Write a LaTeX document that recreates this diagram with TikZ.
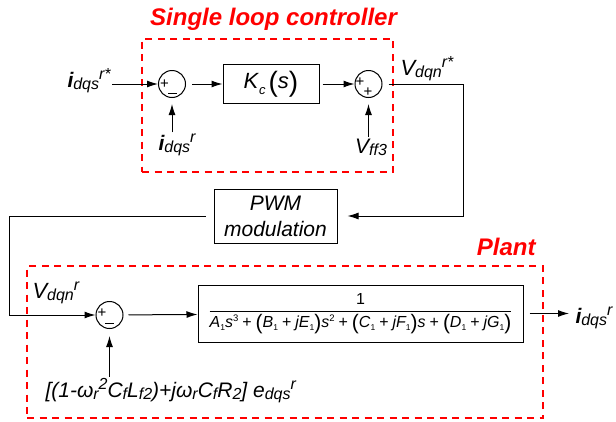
\documentclass[tikz,border=0pt]{standalone}
\usepackage{amsmath}
\usepackage{graphicx}
\usepackage{fontspec}
\setmainfont{Liberation Sans}
\usetikzlibrary{positioning,arrows.meta}

\newcommand\setfs[1]{\fontsize{#1}{#1}\selectfont}
\newcommand\sbs[1]{\raisebox{-2.5pt}{\setfs{16}#1}}
\newcommand\sps[1]{\raisebox{7.5pt}{\setfs{16}#1}}
\newcommand\tsb[1]{\raisebox{-3pt}{\setfs{8.5}\upshape#1}}
\newcommand\tsp[1]{\raisebox{6.5pt}{\setfs{9.5}\upshape#1}}
\newcommand\pl{\hspace{0.25em}{\upshape+}\hspace{0.25em}}
\newcommand\bp[1]{{\upshape\raisebox{-2pt}{\setfs{21}(}}#1{\upshape\raisebox{-2pt}{\setfs{21})}}}

\begin{document}
\begin{tikzpicture}[x=1pt,y=-1pt,line width=1pt,>={Latex[length=11pt,width=7pt]},
  blk/.style={draw,inner sep=0pt},
  sum/.style={draw,circle,minimum size=27pt,inner sep=0pt},
  sgn/.style={inner sep=0pt,font=\setfs{15}},
  sig/.style={inner sep=1pt,font=\setfs{21}\itshape},
  grp/.style={draw=red,line width=1.4pt,dash pattern=on 7pt off 5.5pt},
  ttl/.style={inner sep=0pt,text=red,font=\setfs{24}\bfseries\itshape}]
\useasboundingbox (0,0) rectangle (616,421);
\node[ttl,anchor=base] (ttl) at (273.5,25) {Single loop controller};
\node[grp,minimum width=251,minimum height=133] (ctrl) at (267.5,105.5) {};
\node[sum] (s1) at (172,84) {};
\node[blk,minimum width=96,minimum height=39,right=36.5pt of s1] (kc)
  {\setfs{22}\textit{K}\raisebox{-6pt}{\setfs{13}\textit{c}}\hspace{3pt}\raisebox{-2.5pt}{\setfs{28}(}\textit{s}\raisebox{-2.5pt}{\setfs{28})}};
\node[sum,right=35pt of kc] (s2) {};
\node[sgn] at ([xshift=-7.5pt]s1.center) {+};
\draw ([xshift=-4pt,yshift=-9pt]s1.center) -- ++(9,0);
\node[sgn] at ([xshift=-8.5pt,yshift=1.5pt]s2.center) {+};
\node[sgn] at ([xshift=-0.5pt,yshift=-8.5pt]s2.center) {+};
\node[sig,anchor=base west] (iref) at (66,87) {{\bfseries i}\sbs{dqs}\sps{r*}};
\node[sig,anchor=base] (ifb) at (177,150) {{\bfseries i}\sbs{dqs}\sps{r}};
\node[sig,anchor=base] (vff) at (371,153) {V\sbs{ff3}};
\node[sig,anchor=base west,font=\setfs{22}\itshape] (vref) at (399,75) {V\sbs{dqn}\sps{r*}};
\coordinate (c1) at (463,84);
\node[blk,minimum width=123,minimum height=54,align=center,
  font=\fontsize{21}{26}\selectfont\itshape] (pwm) at (275.5,216) {PWM\\modulation};
\coordinate (c2) at (9,315);
\node[ttl,anchor=base east] (plt) at (536,255) {Plant};
\node[grp,minimum width=516,minimum height=152] (plant) at (285,342) {};
\node[sum] (s3) at (109.5,315) {};
\node[sgn] at ([xshift=-7.5pt,yshift=2pt]s3.center) {+};
\draw ([xshift=-4.5pt,yshift=-8pt]s3.center) -- ++(9,0);
\node[sig,anchor=base west,font=\setfs{22}\itshape] (vin) at (31,298) {V\sbs{dqn}\sps{r}};
\node[blk,minimum width=325,minimum height=57] (tf) at (360.5,313.5)
  {\setfs{16}$\dfrac{\text{1}}{\text{\itshape A\tsb{1}s\tsp{3}\pl\bp{B\tsb{1}\pl jE\tsb{1}}s\tsp{2}\pl\bp{C\tsb{1}\pl jF\tsb{1}}s\pl\bp{D\tsb{1}\pl jG\tsb{1}}}}$};
\node[sig,anchor=base west] (iout) at (574,323) {{\bfseries i}\sbs{dqs}\sps{r}};
\node[sig,anchor=base west] (efb) at (44,397) {[(1-ω\sbs{r}\sps{2}C\sbs{f}L\sbs{f2})+jω\sbs{r}C\sbs{f}R\sbs{2}] e\sbs{dqs}\sps{r}};
\draw[->] (iref.east |- s1) -- (s1);
\draw[->,shorten <=6pt] (s1) -- (kc);
\draw[->,shorten <=3pt] (kc) -- (s2);
\draw[->,shorten >=6pt] (s1 |- ifb.north) -- (s1);
\draw[->,shorten >=6pt] (s2 |- vff.north) -- (s2);
\draw[->,shorten <=6pt,shorten >=10pt] (s2) -- (c1) |- (pwm);
\draw[->,shorten <=8pt] (pwm) -| (c2) -- (s3);
\draw[->,shorten <=5pt] (s3) -- (tf);
\draw[->,shorten >=7pt] (s3 |- efb.north) -- (s3);
\draw[->,shorten <=6pt,shorten >=5pt] (tf.east) -- (iout.west |- tf.east);
\end{tikzpicture}
\end{document}
